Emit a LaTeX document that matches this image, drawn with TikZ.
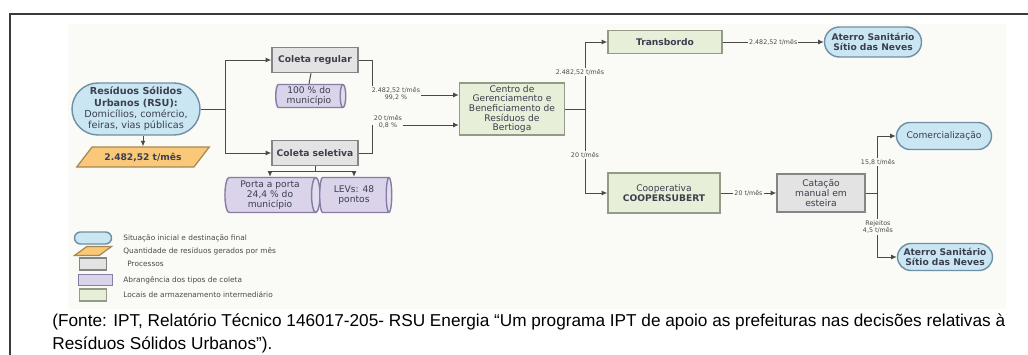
\documentclass[tikz,border=0pt]{standalone}
\usepackage{fontspec}
\setmainfont{DejaVu Sans}
\newfontfamily\capfont{Liberation Sans}
\usetikzlibrary{arrows.meta,positioning,shapes.geometric,shapes.misc}

\definecolor{rsublue}{HTML}{C9E6F2}
\definecolor{rsuedge}{HTML}{6F8FA6}
\definecolor{qtyorange}{HTML}{F9C878}
\definecolor{qtyedge}{HTML}{A9874F}
\definecolor{procgray}{HTML}{E3E3E3}
\definecolor{procedge}{HTML}{858585}
\definecolor{scopeviolet}{HTML}{DAD3EA}
\definecolor{scopeedge}{HTML}{857DA3}
\definecolor{storegreen}{HTML}{E8EFD8}
\definecolor{storeedge}{HTML}{939B84}
\definecolor{inktext}{HTML}{3C3F4F}
\definecolor{flowline}{HTML}{4A4A4A}
\definecolor{framegray}{HTML}{3A3A3A}
\definecolor{panel}{HTML}{FAFAF6}

\newlength\pxu
\setlength\pxu{0.02cm}

\tikzset{
  boxtext/.style={font=\fontsize{5.2}{5.5}\selectfont, text=inktext, align=center, inner sep=0pt},
  endbox/.style={boxtext, rounded rectangle, draw=rsuedge, fill=rsublue, line width=0.8pt},
  qtybox/.style={boxtext, trapezium, trapezium left angle=45, trapezium right angle=135,
    trapezium stretches=true, draw=qtyedge, fill=qtyorange, line width=0.7pt, inner sep=1pt},
  procbox/.style={boxtext, rectangle, draw=procedge, fill=procgray, line width=0.8pt},
  storebox/.style={boxtext, rectangle, draw=storeedge, fill=storegreen, line width=0.8pt},
  scopebox/.style={boxtext, cylinder, shape aspect=0.3, draw=scopeedge, line width=0.8pt,
    cylinder uses custom fill, cylinder body fill=scopeviolet, cylinder end fill=scopeviolet!75!white},
  flow/.style={draw=flowline, line width=0.55pt, -{Latex[length=3.2pt,width=2.8pt]}},
  link/.style={draw=flowline, line width=0.55pt},
  qlabel/.style={font=\fontsize{3.6}{4.2}\selectfont, text=flowline, fill=panel, inner sep=0.6pt, align=center},
  legtext/.style={font=\fontsize{4.2}{5}\selectfont, text=flowline, anchor=west, inner sep=0pt}
}

\begin{document}
\begin{tikzpicture}[x=0.02cm,y=-0.02cm]
\useasboundingbox (0,0) rectangle (1028,355);

% Frame and panel
\fill[panel] (68,24) rectangle (1006,309);
\draw[line width=1.1pt, framegray] (10,360) |- (1035,14);

% Source and monthly amount
\node[endbox, font=\fontsize{5.5}{6.4}\selectfont, minimum width=128\pxu, minimum height=52\pxu] (rsu) at (136,109)
  {\textbf{Resíduos Sólidos}\\\textbf{Urbanos (RSU):}\\Domicílios, comércio,\\feiras, vias públicas};
\node[qtybox, minimum width=133\pxu, minimum height=20\pxu] (qtd) at (143,157) {\textbf{2.482,52 t/mês}};
\draw[flow] (rsu.south -| qtd.north) -- (qtd.north);

% Collection types
\node[procbox, minimum width=86\pxu, minimum height=25\pxu] (regular) at (315,60) {\textbf{Coleta regular}};
\node[procbox, minimum width=86\pxu, minimum height=25\pxu] (seletiva) at (315,153) {\textbf{Coleta seletiva}};
\node[scopebox, minimum width=23\pxu, minimum height=70\pxu] (cylreg) at (309,96) {100 \% do\\município};
\node[scopebox, minimum width=35\pxu, minimum height=95\pxu] (porta) at (270,195) {Porta a porta\\24,4 \% do\\município};
\node[scopebox, minimum width=35\pxu, minimum height=72\pxu] (levs) at (354,195) {LEVs: 48\\pontos};

\coordinate (rsusplit) at (225,109);
\draw[link] (rsu.east) -- (rsusplit);
\draw[flow] (rsusplit) |- (regular);
\draw[flow] (rsusplit) |- (seletiva);
\draw[link] ([xshift=-4\pxu]regular.south) -- (cylreg.north);
\coordinate (selsplit) at (315,171);
\draw[link] (seletiva.south) -- (selsplit);
\draw[flow] (selsplit) -| (porta);
\draw[flow] (selsplit) -| (levs);

% Management centre
\node[storebox, minimum width=105\pxu, minimum height=52\pxu] (centro) at (512,109)
  {Centro de\\Gerenciamento e\\Beneficiamento de\\Resíduos de\\Bertioga};
\coordinate (rcorner) at (372,95);
\coordinate (scorner) at (372,125);
\draw[flow] (regular.east) -| (rcorner) -- (rcorner -| centro.west);
\draw[flow] (seletiva.east) -| (scorner) -- (scorner -| centro.west);
\node[qlabel] at (396,94) {2.482,52 t/mês\\99,2 \%};
\node[qlabel] at (388,122) {20 t/mês\\0,8 \%};

% Destinations
\node[storebox, minimum width=114\pxu, minimum height=23\pxu] (transbordo) at (665,42) {\textbf{Transbordo}};
\node[endbox, minimum width=97\pxu, minimum height=30\pxu] (aterroa) at (873,42) {\textbf{Aterro Sanitário}\\\textbf{Sítio das Neves}};
\node[storebox, minimum width=112\pxu, minimum height=40\pxu] (coop) at (664,193) {Cooperativa\\\textbf{COOPERSUBERT}};
\node[procbox, minimum width=88\pxu, minimum height=38\pxu] (catacao) at (821,193) {Catação\\manual em\\esteira};
\node[endbox, minimum width=95\pxu, minimum height=27\pxu] (comerc) at (944,136) {Comercialização};
\node[endbox, minimum width=95\pxu, minimum height=27\pxu] (aterrob) at (945,257) {\textbf{Aterro Sanitário}\\\textbf{Sítio das Neves}};

\coordinate (csplit) at (585,109);
\draw[link] (centro.east) -- (csplit);
\draw[flow] (csplit) |- (transbordo);
\draw[flow] (csplit) |- (coop);
\node[qlabel] at (580,72) {2.482,52 t/mês};
\node[qlabel] at (585,155) {20 t/mês};
\draw[flow] (transbordo) -- node[qlabel] {2.482,52 t/mês} (aterroa);
\draw[flow] (coop) -- node[qlabel] {20 t/mês} (catacao);

\coordinate (ksplit) at (877,193);
\draw[link] (catacao.east) -- (ksplit);
\draw[flow] (ksplit) |- (comerc);
\draw[flow] (ksplit) |- (aterrob);
\node[qlabel] at (878,162) {15,8 t/mês};
\node[qlabel] at (878,227) {Rejeitos\\4,5 t/mês};

% Legend
\node[endbox, minimum width=37\pxu, minimum height=12\pxu] (lega) at (93,238) {};
\node[qtybox, minimum width=37\pxu, minimum height=9\pxu] (legb) at (93,251) {};
\node[procbox, minimum width=27\pxu, minimum height=12\pxu] (legc) at (93,264) {};
\node[scopebox, minimum width=11\pxu, minimum height=34\pxu] (legd) at (95,280) {};
\node[storebox, minimum width=27\pxu, minimum height=12\pxu] (lege) at (93,295) {};
\node[legtext] at (123,238) {Situação inicial e destinação final};
\node[legtext] at (123,251) {Quantidade de resíduos gerados por mês};
\node[legtext] at (127,264) {Processos};
\node[legtext] at (123,280) {Abrangência dos tipos de coleta};
\node[legtext] at (123,295) {Locais de armazenamento intermediário};

% Source note
\node[anchor=west, inner sep=0pt, font=\capfont\fontsize{9.8}{11}\selectfont] (fonte) at (52,322)
  {(Fonte: IPT, Relatório Técnico 146017-205- RSU Energia “Um programa IPT de apoio as prefeituras nas decisões relativas à};
\node[anchor=west, inner sep=0pt, font=\capfont\fontsize{9.8}{11}\selectfont] (fonteb) at (52,345)
  {Resíduos Sólidos Urbanos”).};
\end{tikzpicture}
\end{document}
